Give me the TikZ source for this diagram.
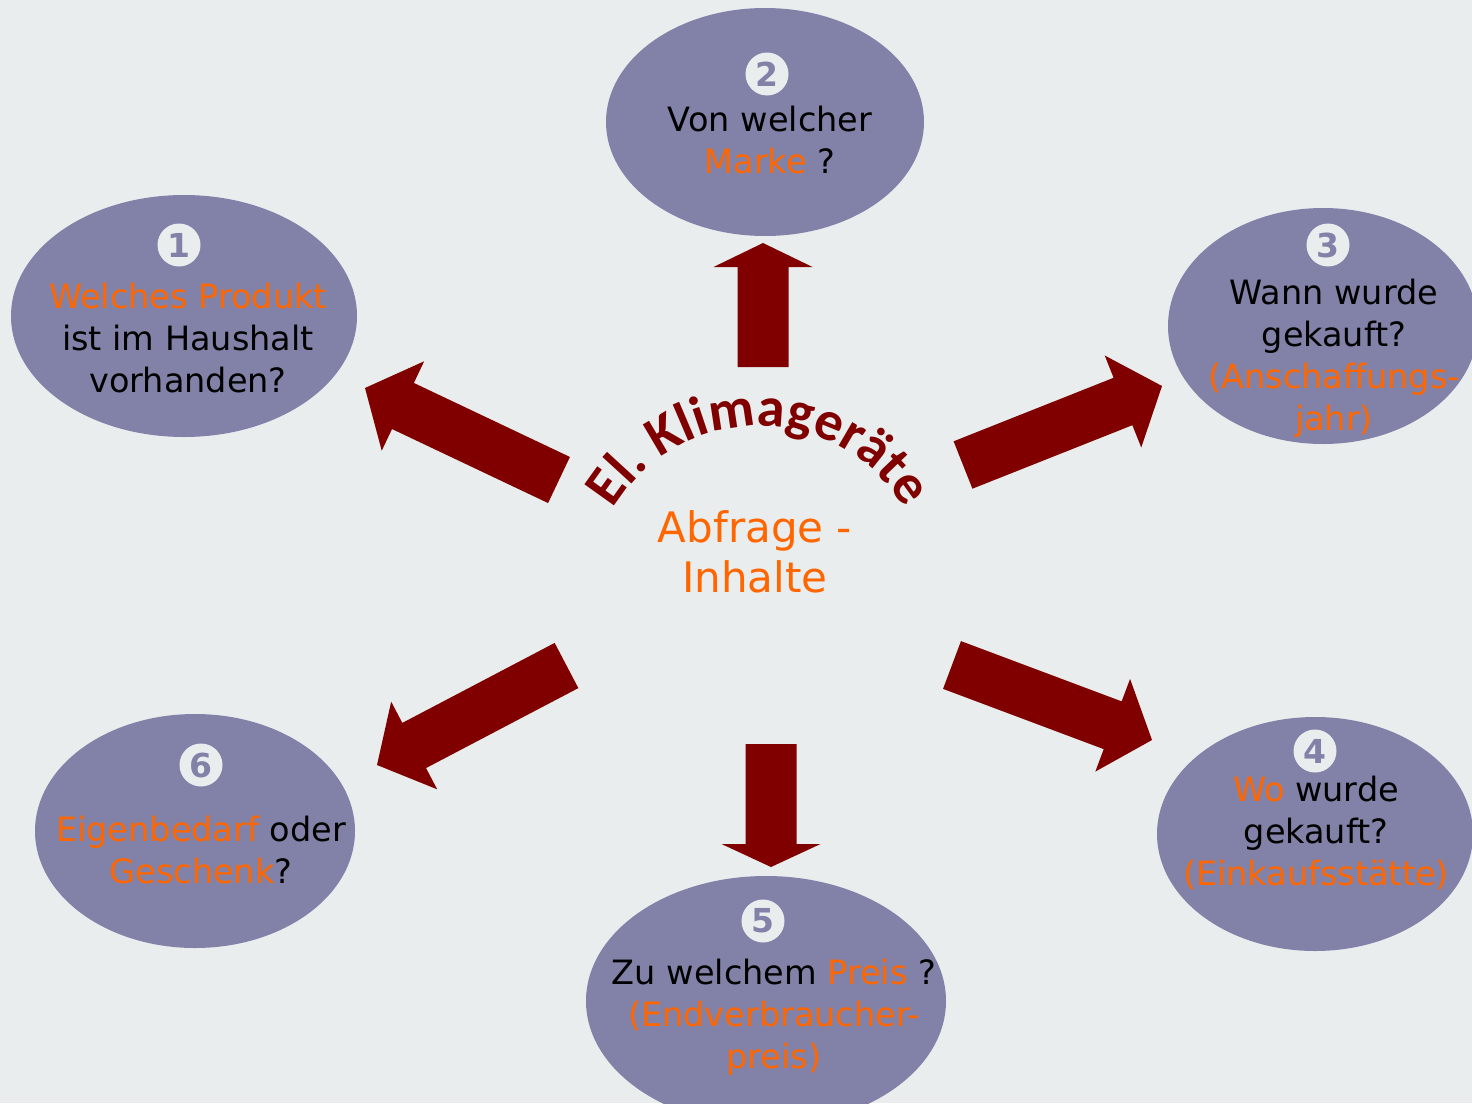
\documentclass[tikz,border=0pt]{standalone}
\usepackage{fontspec}
\setmainfont{DejaVu Sans}
\newfontfamily\titlefont{Carlito}
\usetikzlibrary{shapes.geometric,calc,decorations.text}
\definecolor{bg}{HTML}{E9EDEE}
\definecolor{ell}{HTML}{8282A8}
\definecolor{org}{HTML}{FF6600}
\definecolor{dred}{HTML}{800000}
\newcommand\og[1]{\textcolor{org}{#1}}
\newcommand\blockarr[3]{%
  \coordinate (hb) at ($(#2)!#3!(#1)$);
  \fill[dred] ($(#1)!25.5pt!90:(#2)$) -- ($(hb)!25.5pt!-90:(#1)$) -- ($(hb)!49.5pt!-90:(#1)$) -- (#2)
     -- ($(hb)!49.5pt!90:(#1)$) -- ($(hb)!25.5pt!90:(#1)$) -- ($(#1)!25.5pt!-90:(#2)$) -- cycle;}
\tikzset{
  bubble/.style={ellipse, fill=ell, inner sep=0pt},
  btext/.style={align=center, font=\fontsize{33.5}{42}\selectfont, text=black, inner sep=0pt},
  ctext/.style={align=center, font=\fontsize{42}{50}\selectfont, text=org, inner sep=0pt},
  numc/.style={circle, fill=bg, minimum size=43pt, inner sep=0pt, text=ell, font=\fontsize{33}{33}\selectfont\bfseries},
}
\begin{document}
\begin{tikzpicture}[x=1pt,y=-1pt]
\useasboundingbox (0,0) rectangle (1472,1103);
\clip (0,0) rectangle (1472,1103);
\fill[bg] (0,0) rectangle (1472,1103);
% bubbles
\node[bubble, minimum width=346pt, minimum height=242pt] (e1) at (184,316) {};
\node[bubble, minimum width=318pt, minimum height=228pt] (e2) at (765,122) {};
\node[bubble, minimum width=310pt, minimum height=236pt] (e3) at (1323,326) {};
\node[bubble, minimum width=316pt, minimum height=234pt] (e4) at (1315,834) {};
\node[bubble, minimum width=360pt, minimum height=250pt] (e5) at (766,1001) {};
\node[bubble, minimum width=320pt, minimum height=234pt] (e6) at (195,831) {};
% numbers
\node[numc] (n1) at (179,245) {1};
\node[numc] (n2) at (767,74) {2};
\node[numc] (n3) at (1328,245) {3};
\node[numc] (n4) at (1315,751) {4};
\node[numc] (n5) at (763,921) {5};
\node[numc] (n6) at (201,765) {6};
% texts
\node[btext] (t1) at (188,341.6) {\strut\og{Welches Produkt}\\\strut ist im Haushalt\\\strut vorhanden?};
\node[btext] (t2) at (770,143.6) {\strut Von welcher\\\strut\og{Marke} ?};
\node[btext] (t3) at (1334,358.6) {\strut Wann wurde\\\strut gekauft?\\\strut\og{(Anschaffungs-}\\\strut\og{jahr)}};
\node[btext] (t4) at (1316,835) {\strut\og{Wo} wurde\\\strut gekauft?\\\strut\og{(Einkaufsstätte)}};
\node[btext] (t5) at (774,1017.6) {\strut Zu welchem \og{Preis} ?\\\strut\og{(Endverbraucher-}\\\strut\og{preis)}};
\node[btext] (t6) at (201,853.6) {\strut\og{Eigenbedarf} oder\\\strut\og{Geschenk}?};
\node[ctext] (ct) at (755,557) {\strut Abfrage -\\\strut Inhalte};
% title on arc
\coordinate (arcc) at (759,596);
\path[decorate, decoration={text along path, text align=center,
   text={|\titlefont\fontsize{56}{56}\selectfont\bfseries\color{dred}|El. Klimageräte}}]
   ($(arcc)+(-147.2,-85)$) arc[start angle=150, end angle=30, radius=170pt];
% arrows
\coordinate (aupT) at (763,367); \coordinate (aupP) at (763,243);
\coordinate (adnT) at (771,744); \coordinate (adnP) at (771,867);
\coordinate (aulT) at (559,480); \coordinate (aulP) at (365,388);
\coordinate (aurT) at (963,465); \coordinate (aurP) at (1162,386);
\coordinate (allT) at (566.5,665.5); \coordinate (allP) at (377,765);
\coordinate (alrT) at (952,665); \coordinate (alrP) at (1152,740);
\blockarr{aupT}{aupP}{24pt}
\blockarr{adnT}{adnP}{23pt}
\blockarr{aulT}{aulP}{42pt}
\blockarr{aurT}{aurP}{42pt}
\blockarr{allT}{allP}{42pt}
\blockarr{alrT}{alrP}{42pt}
\end{tikzpicture}
\end{document}
